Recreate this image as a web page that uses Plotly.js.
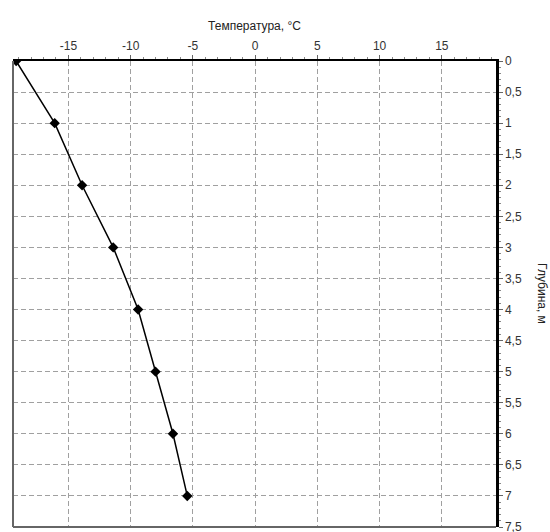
<!DOCTYPE html>
<html>
<head>
<meta charset="utf-8">
<script src="https://cdn.plot.ly/plotly-3.0.1.min.js"></script>
<style>html,body{margin:0;padding:0;background:#fff;}#chart{width:550px;height:532px;}</style>
</head>
<body>
<div id="chart"></div>
<script>
// Data
const temperature = [-19.2, -16.1, -13.9, -11.4, -9.4, -8.0, -6.6, -5.45];
const depth = [0, 1, 2, 3, 4, 5, 6, 7];

const xTickVals = [-15, -10, -5, 0, 5, 10, 15];
const xTickText = ["-15", "-10", "-5", "0", "5", "10", "15"];
const yTickVals = [0, 0.5, 1, 1.5, 2, 2.5, 3, 3.5, 4, 4.5, 5, 5.5, 6, 6.5, 7, 7.5];
const yTickText = ["0", "0,5", "1", "1,5", "2", "2,5", "3", "3,5", "4", "4,5", "5", "5,5", "6", "6,5", "7", "7,5"];

const xTitle = "Температура, °C";
const yTitle = "Глубина, м";

const trace = {
  x: temperature,
  y: depth,
  type: "scatter",
  mode: "lines+markers",
  line: {color: "#000", width: 1.5},
  marker: {color: "#000", symbol: "diamond", size: 8},
  cliponaxis: true,
  showlegend: false
};

const font = {family: "Liberation Sans, Arial, sans-serif", size: 12, color: "#333"};

const layout = {
  width: 550,
  height: 532,
  margin: {l: 13, r: 54, t: 61, b: 5},
  paper_bgcolor: "#fff",
  plot_bgcolor: "#fff",
  font: font,
  showlegend: false,
  xaxis: {
    side: "top",
    range: [-19.45, 19.35],
    tickmode: "array",
    tickvals: xTickVals,
    ticktext: xTickText,
    ticks: "outside",
    ticklen: 4,
    tickcolor: "#666",
    tickfont: {family: font.family, size: 12, color: "#333"},
    showgrid: true,
    gridcolor: "#a0a0a0",
    griddash: "5px,3px",
    gridwidth: 1,
    zeroline: false,
    showline: true,
    linecolor: "#000",
    linewidth: 2.5,
    minor: {dtick: 1, ticks: "outside", ticklen: 2, tickcolor: "#888", showgrid: false},
    title: {text: xTitle, font: {family: font.family, size: 12, color: "#222"}, standoff: 6},
    fixedrange: true
  },
  yaxis: {
    side: "right",
    range: [7.5, 0],
    tickmode: "array",
    tickvals: yTickVals,
    ticktext: yTickText,
    ticks: "outside",
    ticklen: 4,
    tickcolor: "#666",
    tickfont: {family: font.family, size: 12, color: "#333"},
    ticklabeloverflow: "allow",
    showgrid: true,
    gridcolor: "#a0a0a0",
    griddash: "5px,3px",
    gridwidth: 1,
    zeroline: false,
    showline: true,
    linecolor: "#000",
    linewidth: 2.5,
    minor: {dtick: 0.1, ticks: "outside", ticklen: 2, tickcolor: "#888", showgrid: false},
    fixedrange: true
  },
  shapes: [
    {type: "line", xref: "paper", yref: "paper", x0: 0, x1: 0, y0: 0, y1: 1, line: {color: "#666", width: 2}},
    {type: "line", xref: "paper", yref: "paper", x0: 0, x1: 1, y0: 0, y1: 0, line: {color: "#666", width: 2}}
  ],
  annotations: [
    {text: yTitle, xref: "paper", yref: "paper", x: 1.095, y: 0.5, showarrow: false, textangle: 90,
     xanchor: "center", yanchor: "middle", font: {family: font.family, size: 12, color: "#222"}}
  ]
};

Plotly.newPlot("chart", [trace], layout, {displayModeBar: false, staticPlot: true});
</script>
</body>
</html>
